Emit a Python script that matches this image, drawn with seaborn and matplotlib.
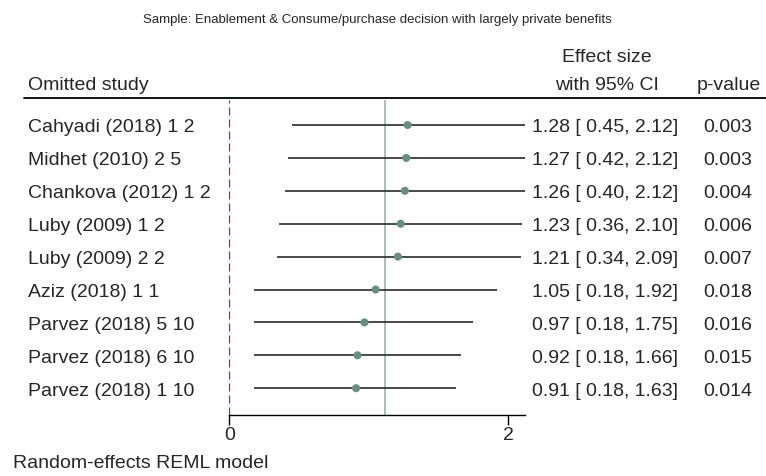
import matplotlib
matplotlib.use("Agg")
import matplotlib.pyplot as plt
import seaborn as sns
import pandas as pd

studies = ["Cahyadi (2018) 1 2", "Midhet (2010) 2 5", "Chankova (2012) 1 2",
           "Luby (2009) 1 2", "Luby (2009) 2 2", "Aziz (2018) 1 1",
           "Parvez (2018) 5 10", "Parvez (2018) 6 10", "Parvez (2018) 1 10"]
effect = [1.28, 1.27, 1.26, 1.23, 1.21, 1.05, 0.97, 0.92, 0.91]
ci_low = [0.45, 0.42, 0.40, 0.36, 0.34, 0.18, 0.18, 0.18, 0.18]
ci_high = [2.12, 2.12, 2.12, 2.10, 2.09, 1.92, 1.75, 1.66, 1.63]
pvalues = [0.003, 0.003, 0.004, 0.006, 0.007, 0.018, 0.016, 0.015, 0.014]
overall = 1.12
xticks = [0, 2]

sns.set_theme(style="white")
plt.rcParams['font.family'] = ['Liberation Sans', 'DejaVu Sans']

W, H = 766, 476
fig = plt.figure(figsize=(W / 100, H / 100), dpi=100)

# axes placed in pixel coordinates
ax_l, ax_r, ax_t, ax_b = 229.3, 525, 100, 414.5
ax = fig.add_axes([ax_l / W, 1 - ax_b / H, (ax_r - ax_l) / W, (ax_b - ax_t) / H])

df = pd.DataFrame({"study": studies, "effect": effect, "lo": ci_low,
                   "hi": ci_high, "p": pvalues})
df["row"] = range(len(df))

row_px0, row_step = 125, 32.9
ytop = (ax_t - row_px0) / row_step
ybot = (ax_b - row_px0) / row_step
x1 = (ax_r - ax_l) / 139.35
ax.set_xlim(0, x1)
ax.set_ylim(ybot, ytop)

ax.axvline(0, color="#9b2a40", lw=0.9, ls=(0, (6.4, 3.2)), zorder=1)
ax.axvline(overall, color="#9fb3a8", lw=1.2, zorder=1)
ax.hlines(df["row"], df["lo"], df["hi"], color="#2a2a2a", lw=1.2, zorder=2)
sns.scatterplot(data=df, x="effect", y="row", ax=ax, color="#6b8e82",
                s=34, edgecolor="none", zorder=3, legend=False)

for s in ["top", "right", "left"]:
    ax.spines[s].set_visible(False)
ax.spines["bottom"].set_color("black")
ax.spines["bottom"].set_linewidth(1.0)
ax.set_xticks(xticks)
ax.set_xticklabels([str(t) for t in xticks], fontsize=14)
ax.tick_params(axis="x", direction="out", length=7, width=1.0, color="black",
               pad=2, bottom=True)
ax.set_yticks([])
ax.set_xlabel("")
ax.set_ylabel("")
ax.set_facecolor("white")

# texts in figure pixel coords
def px(x, y):
    return x / W, 1 - y / H

fs = 14
for i, r in df.iterrows():
    y = row_px0 + row_step * r["row"] + 1
    fig.text(*px(28, y), r["study"], ha="left", va="center_baseline", fontsize=fs)
    fig.text(*px(605, y), f"{r['effect']:.2f} [{r['lo']:5.2f}, {r['hi']:.2f}]",
             ha="center", va="center_baseline", fontsize=fs)
    fig.text(*px(728, y), f"{r['p']:.3f}", ha="center", va="center_baseline", fontsize=fs)

fig.text(*px(377, 20), "Sample: Enablement & Consume/purchase decision with largely private benefits",
         ha="center", va="center", fontsize=9.5)
fig.text(*px(28, 83), "Omitted study", ha="left", va="center_baseline", fontsize=fs)
fig.text(*px(607, 56), "Effect size", ha="center", va="center_baseline", fontsize=fs)
fig.text(*px(607, 83), "with 95% CI", ha="center", va="center_baseline", fontsize=fs)
fig.text(*px(729, 83), "p-value", ha="center", va="center_baseline", fontsize=fs)
fig.text(*px(13, 462), "Random-effects REML model", ha="left", va="center_baseline", fontsize=fs)

fig.add_artist(plt.Line2D([24 / W, 1.0], [1 - 98 / H, 1 - 98 / H],
                          color="black", lw=1.3))

fig.savefig("out.png", dpi=100, facecolor="white")
